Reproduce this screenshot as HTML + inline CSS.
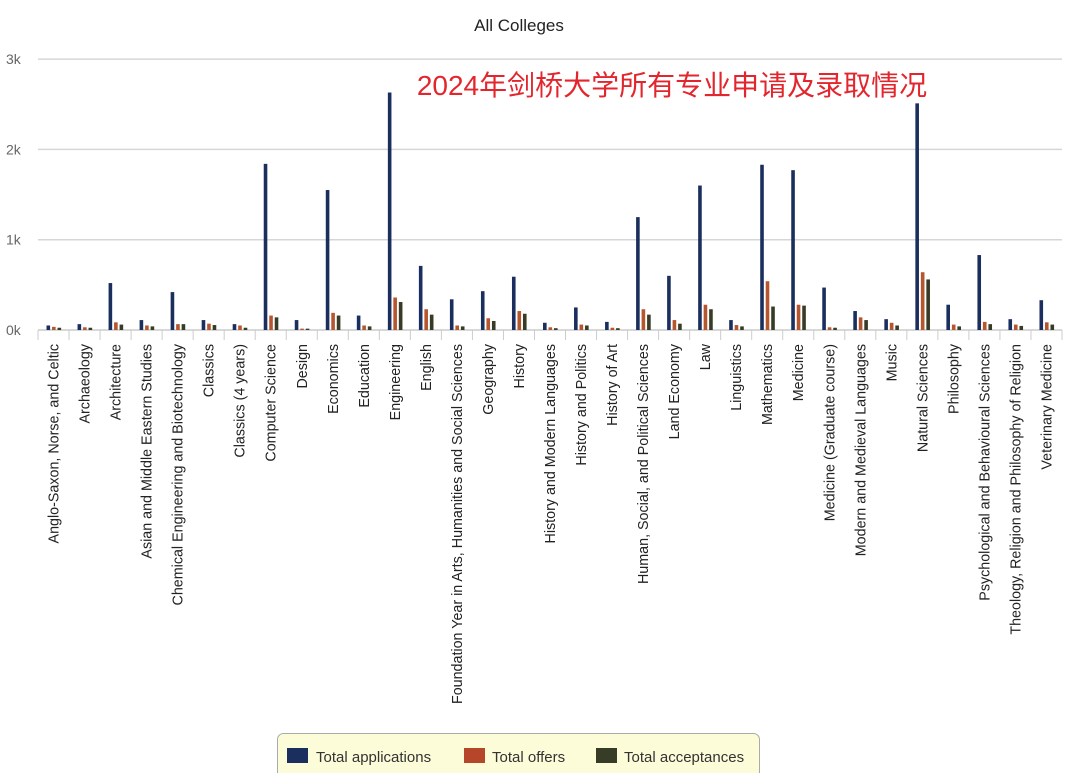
<!DOCTYPE html>
<html><head><meta charset="utf-8"><style>
body{margin:0;background:#fff;}
svg{display:block;font-family:"Liberation Sans","Noto Sans CJK SC",sans-serif;}
</style></head><body>
<svg width="1080" height="773" viewBox="0 0 1080 773">
<text x="519" y="31" text-anchor="middle" font-size="17" fill="#222">All Colleges</text>
<text x="672" y="95" text-anchor="middle" font-size="28" fill="#e3262d" font-family="Liberation Sans, Noto Sans CJK SC, sans-serif">2024年剑桥大学所有专业申请及录取情况</text>
<g id="grid"></g><g id="bars"></g><g id="xlabels"></g>
<g>
<rect x="277.5" y="733.5" width="482" height="50" rx="6" fill="#fdfcd8" stroke="#aaa"/>
<rect x="287" y="748" width="21" height="15" fill="#1b2f5e"/>
<text x="316" y="762" font-size="15" fill="#333">Total applications</text>
<rect x="464" y="748" width="21" height="15" fill="#b5462a"/>
<text x="492" y="762" font-size="15" fill="#333">Total offers</text>
<rect x="596" y="748" width="21" height="15" fill="#363c26"/>
<text x="624" y="762" font-size="15" fill="#333">Total acceptances</text>
</g>
</svg>
<script>
const categories=["Anglo-Saxon, Norse, and Celtic","Archaeology","Architecture","Asian and Middle Eastern Studies","Chemical Engineering and Biotechnology","Classics","Classics (4 years)","Computer Science","Design","Economics","Education","Engineering","English","Foundation Year in Arts, Humanities and Social Sciences","Geography","History","History and Modern Languages","History and Politics","History of Art","Human, Social, and Political Sciences","Land Economy","Law","Linguistics","Mathematics","Medicine","Medicine (Graduate course)","Modern and Medieval Languages","Music","Natural Sciences","Philosophy","Psychological and Behavioural Sciences","Theology, Religion and Philosophy of Religion","Veterinary Medicine"];
const applications=[50,65,520,110,420,110,65,1840,110,1550,160,2630,710,340,430,590,80,250,90,1250,600,1600,110,1830,1770,470,210,120,2510,280,830,120,330];
const offers=[35,30,85,50,65,70,50,160,15,190,50,360,230,50,130,210,30,60,25,230,110,280,55,540,280,30,140,80,640,60,90,60,85];
const acceptances=[25,25,60,40,65,55,25,140,15,160,40,310,170,40,100,180,20,50,20,170,70,230,40,260,270,25,110,50,560,40,65,45,60];
const yTicks=[0,1000,2000,3000];
const yTickLabels=["0k","1k","2k","3k"];
const NS="http://www.w3.org/2000/svg";
const x0=38,x1=1062,y0=330,pxPerUnit=90.3/1000;
const bw=(x1-x0)/categories.length;
const yScale=v=>y0-v*pxPerUnit;
const xCenter=i=>x0+(i+0.5)*bw;
function mk(tag,attrs,parent){const e=document.createElementNS(NS,tag);for(const k in attrs)e.setAttribute(k,attrs[k]);parent.appendChild(e);return e;}
const grid=document.getElementById('grid');
yTicks.forEach((t,i)=>{
  const l=mk('line',{x1:38,x2:1062,y1:yScale(t),y2:yScale(t),stroke:i===0?'#ccc':'#d6d6d6','stroke-width':1.5},grid);
  
  
  const tx=mk('text',{x:6,y:yScale(t)+5,'font-size':14,fill:'#666'},grid);
  tx.textContent=yTickLabels[i];
  
  
});
for(let i=0;i<=categories.length;i++){
  const tk=mk('line',{x1:x0+i*bw,x2:x0+i*bw,y1:330,y2:340,stroke:'#ccc'},grid);
  
  
}
const bars=document.getElementById('bars');
const series=[[applications,'#1b2f5e',-7,'bar-applications'],[offers,'#b5562f',-1.5,'bar-offers'],[acceptances,'#363c26',4,'bar-acceptances']];
series.forEach(([arr,col,off,nm])=>{
  arr.forEach((v,i)=>{
    const r=mk('rect',{x:xCenter(i)+off,y:yScale(v),width:3.6,height:y0-yScale(v),fill:col},bars);
    
    
  });
});
const xl=document.getElementById('xlabels');
categories.forEach((c,i)=>{
  const x=xCenter(i)+5,y=344;
  const t=mk('text',{x:x,y:y,'font-size':14.3,fill:'#222','text-anchor':'end',transform:`rotate(-90 ${x} ${y})`},xl);
  t.textContent=c;
  
  
});
</script>
</body></html>
